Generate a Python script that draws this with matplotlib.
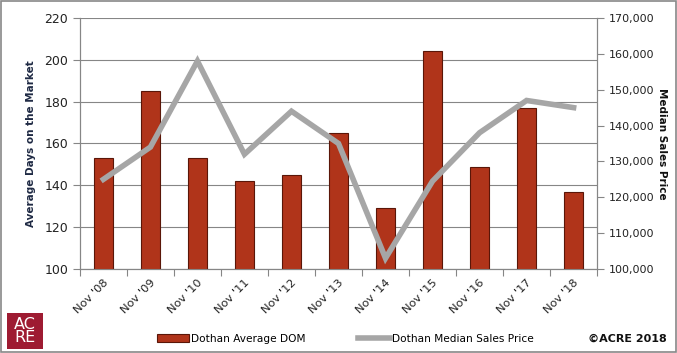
import matplotlib.pyplot as plt
import matplotlib.patches as mpatches
from matplotlib.ticker import FuncFormatter
import numpy as np

# data
months = ["Nov '08", "Nov '09", "Nov '10", "Nov '11", "Nov '12", "Nov '13",
          "Nov '14", "Nov '15", "Nov '16", "Nov '17", "Nov '18"]
avg_dom = [153, 185, 153, 142, 145, 165, 129, 204, 149, 177, 137]
median_price = [125000, 134000, 158000, 132000, 144000, 135000,
                103000, 124500, 138000, 147000, 145000]

bar_color = '#B0341A'
line_color = '#A6A6A6'
grid_color = '#868686'

fig = plt.figure(figsize=(6.77, 3.53), dpi=100)
ax = fig.add_axes([0.118, 0.238, 0.764, 0.711])
ax2 = ax.twinx()

x = np.arange(len(months))
ax.bar(x, avg_dom, width=0.42, bottom=0, color=bar_color,
       edgecolor='#5A1608', linewidth=0.8, zorder=3, label='Dothan Average DOM')
ax2.plot(x, median_price, color=line_color, linewidth=4, zorder=4,
         label='Dothan Median Sales Price', solid_joinstyle='miter')

ax.set_xlim(-0.5, len(months) - 0.5)
ax.set_ylim(100, 220)
ax.set_yticks(range(100, 221, 20))
ax2.set_ylim(100000, 170000)
ax2.set_yticks(range(100000, 170001, 10000))
ax2.yaxis.set_major_formatter(FuncFormatter(lambda v, p: f'{int(v):,}'))

ax.grid(axis='y', color=grid_color, linewidth=0.8, zorder=0)
ax.set_axisbelow(True)

# x ticks between categories, labels at centers
ax.set_xticks(np.arange(-0.5, len(months), 1), minor=False)
ax.set_xticklabels([])
ax.set_xticks(x, minor=True)
ax.set_xticklabels(months, minor=True, rotation=45, ha='right',
                   rotation_mode='anchor', fontsize=8.2, color='#222222')
ax.tick_params(axis='x', which='minor', length=0, pad=6)
ax.tick_params(axis='x', which='major', length=5, color=grid_color, direction='out')
ax.tick_params(axis='y', length=5, color=grid_color, labelsize=9, labelcolor='#222222')
ax2.tick_params(axis='y', length=5, color=grid_color, labelsize=8, labelcolor='#222222')

for a in (ax, ax2):
    for s in a.spines.values():
        s.set_visible(False)
    for side in ('left', 'right', 'bottom'):
        a.spines[side].set_visible(True)
        a.spines[side].set_color(grid_color)

ax.set_ylabel('Average Days on the Market', fontsize=7.5, fontweight='bold',
              color='#1F2A44', labelpad=6)
ax2.set_ylabel('Median Sales Price', fontsize=7.5, fontweight='bold',
               color='#111111', rotation=270, labelpad=9)

# legend at the bottom
h1, l1 = ax.get_legend_handles_labels()
h2, l2 = ax2.get_legend_handles_labels()
fig.legend(h1 + h2, l1 + l2, loc='center', bbox_to_anchor=(0.51, 0.04),
           ncol=2, frameon=False, fontsize=7.6, handlelength=3.0,
           columnspacing=5.0, handletextpad=0.2)

# logo and copyright
logo = mpatches.Rectangle((0.0105, 0.011), 0.053, 0.102, transform=fig.transFigure,
                          facecolor='#9E1B32', edgecolor='none')
fig.patches.append(logo)
fig.text(0.037, 0.062, 'AC\nRE', ha='center', va='center', color='white',
         fontsize=11.5, linespacing=0.85)
fig.text(0.985, 0.025, '\u00a9ACRE 2018', ha='right', va='bottom',
         fontsize=8, fontweight='bold', color='#111111')

# outer border
fig.patches.append(mpatches.Rectangle((0.002, 0.003), 0.996, 0.994,
                                      transform=fig.transFigure, fill=False,
                                      edgecolor='#888888', linewidth=1.2))

fig.savefig('out.png', dpi=100)
